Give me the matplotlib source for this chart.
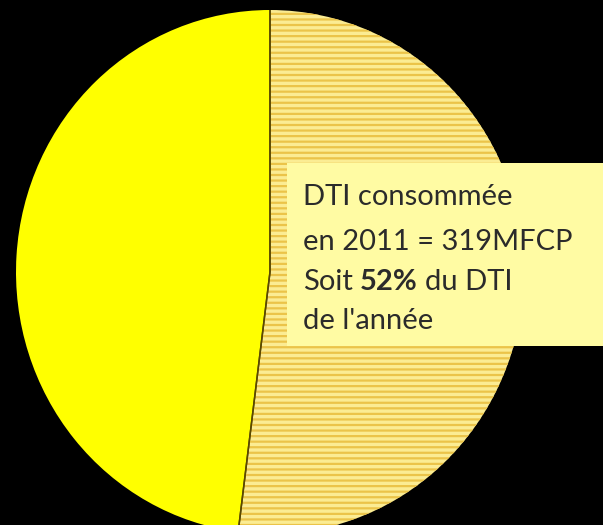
import numpy as np
import matplotlib
matplotlib.use("Agg")
import matplotlib.pyplot as plt
from matplotlib.text import Annotation

# Data
labels = ["DTI consommée", "DTI restante"]
shares = [52, 48]
line1 = "DTI consommée"
line2 = "en 2011 = 319MFCP"
line3_a = "Soit"
line3_b = "52%"
line3_c = "du DTI"
line4 = "de l'année"

W, H = 603, 525
plt.rcParams['hatch.linewidth'] = 1.6

fig = plt.figure(figsize=(W / 100, H / 100), dpi=100, facecolor="black")
ax = fig.add_axes([0, 0, 1, 1])
ax.set_facecolor("black")

# ellipse geometry (pixels)
cx, cy, rx, ry = 270, 272, 254, 262

wedges, _ = ax.pie(shares, startangle=90, counterclock=False,
                   colors=["#FBEC93", "#FFFF00"],
                   wedgeprops=dict(linewidth=0, edgecolor="#EBC449"))
wedges[0].set_hatch("---")
wedges[0].set_edgecolor("#EBC449")
wedges[1].set_edgecolor("#FFFF00")

# slice boundaries (radial lines only)
for w in wedges:
    c = w.center
    for th in (w.theta1, w.theta2):
        t = np.deg2rad(th)
        ax.plot([c[0], c[0] + w.r * np.cos(t)], [c[1], c[1] + w.r * np.sin(t)],
                color="#5a4800", lw=1.1, solid_capstyle="butt", zorder=3)

ax.set_aspect("auto")
ax.set_xlim(-cx / rx, (W - cx) / rx)
ax.set_ylim(-(H - cy) / ry, cy / ry)
ax.axis("off")

# text box (figure pixel coords)
def fx(px):
    return px / W

def fy(py):
    return 1 - py / H

box = plt.Rectangle((fx(287), fy(346)), fx(W) - fx(287) + 0.01, fy(163) - fy(346),
                    transform=fig.transFigure, facecolor="#FFFBA3",
                    edgecolor="none", zorder=5)
fig.patches.append(box)

fam = ["Lato", "DejaVu Sans"]
fs = 21
col = "#2b2b2b"
x0 = fx(303)
kw = dict(fontsize=fs, family=fam, color=col, ha="left", va="baseline", zorder=6)
fig.text(x0, fy(205), line1, **kw)
fig.text(x0, fy(250), line2, **kw)
t_a = fig.text(x0, fy(290), line3_a, **kw)
t_b = Annotation(line3_b, xy=(1, 0), xycoords=t_a, xytext=(7, 0),
                 textcoords="offset pixels", fontsize=fs, family=fam,
                 color=col, fontweight="bold", ha="left", va="bottom",
                 annotation_clip=False, zorder=6)
fig.add_artist(t_b)
t_c = Annotation(line3_c, xy=(1, 0), xycoords=t_b, xytext=(7, 0),
                 textcoords="offset pixels", fontsize=fs, family=fam,
                 color=col, ha="left", va="bottom",
                 annotation_clip=False, zorder=6)
fig.add_artist(t_c)
fig.text(x0, fy(329), line4, **kw)

fig.savefig("out.png", dpi=100, facecolor="black")
